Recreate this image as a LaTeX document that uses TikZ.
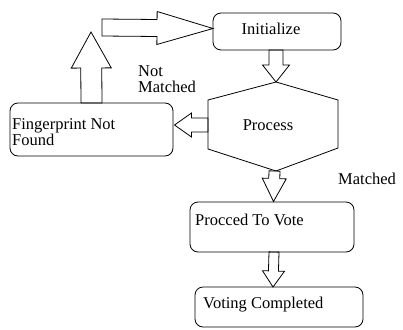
\documentclass[tikz,border=0pt]{standalone}
\usepackage{fontspec}
\setmainfont{Liberation Serif}
\usetikzlibrary{calc}
\tikzset{
  box/.style={draw, line width=0.8pt, rounded corners=8pt, inner sep=0pt},
  lbl/.style={font=\fontsize{16.5}{16.5}\selectfont, inner sep=0pt, anchor=west},
  blk/.style n args={3}{line width=0.8pt, to path={
    let \p1=($(\tikztotarget)!#3!(\tikztostart)$) in
    ($(\tikztostart)!#1!90:(\tikztotarget)$) --
    ($(\p1)!#1!-90:(\tikztostart)$) --
    ($(\p1)!#2!-90:(\tikztostart)$) --
    (\tikztotarget) --
    ($(\p1)!#2!90:(\tikztostart)$) --
    ($(\p1)!#1!90:(\tikztostart)$) --
    ($(\tikztostart)!#1!-90:(\tikztotarget)$) -- cycle}}
}
\begin{document}
\begin{tikzpicture}[x=1pt,y=-1pt]
\useasboundingbox (0,0) rectangle (403,329);
% boxes
\node[box, minimum width=128pt, minimum height=37pt] (init) at (277,31.5) {};
\node[lbl, anchor=center] (tinit) at (271,28.5) {Initialize};
\node[box, minimum width=163pt, minimum height=53pt] (fp) at (91.5,129.5) {};
\node[lbl, align=left, anchor=north west] (tfp) at (12,118.5) {Fingerprint Not\\[-0.5pt]Found};
\node[box, minimum width=164pt, minimum height=50pt] (vote) at (272,227) {};
\node[lbl] (tvote) at (195,219.5) {Procced To Vote};
\node[box, minimum width=168pt, minimum height=40pt] (done) at (279,307) {};
\node[lbl] (tdone) at (203,305) {Voting Completed};
% hexagon
\coordinate (ht) at (276,82);
\coordinate (hb) at (276,171);
\coordinate (hl) at (208,125);
\draw[line width=0.8pt] (ht) -- (338,100) -- (338,148) -- (hb) -- (208,149) -- (208,100) -- cycle;
\node[lbl, anchor=center] (proc) at (268,125.5) {Process};
% labels
\node[lbl, align=left, anchor=north west] (nm) at (138,65) {Not\\[-0.5pt]Matched};
\node[lbl] (m) at (338,178.5) {Matched};
% block arrows
\coordinate (upend) at (91,32);
\coordinate (rstart) at (102,27.5);
\draw[blk={7pt}{13.5pt}{17pt}] (276,50) to (ht);
\draw[blk={5.5pt}{12pt}{23pt}] (274.5,171) to (273.5,201.5);
\draw[blk={5pt}{11pt}{16pt}] (274,252) to (273,287);
\draw[blk={7pt}{12pt}{17pt}] (hl) to (174.5,125);
\draw[blk={10.5pt}{20pt}{36pt}] (91.5,103) to (upend);
\draw[blk={8.5pt}{16.5pt}{56pt}] (rstart) to (213,28.5);
\end{tikzpicture}
\end{document}
